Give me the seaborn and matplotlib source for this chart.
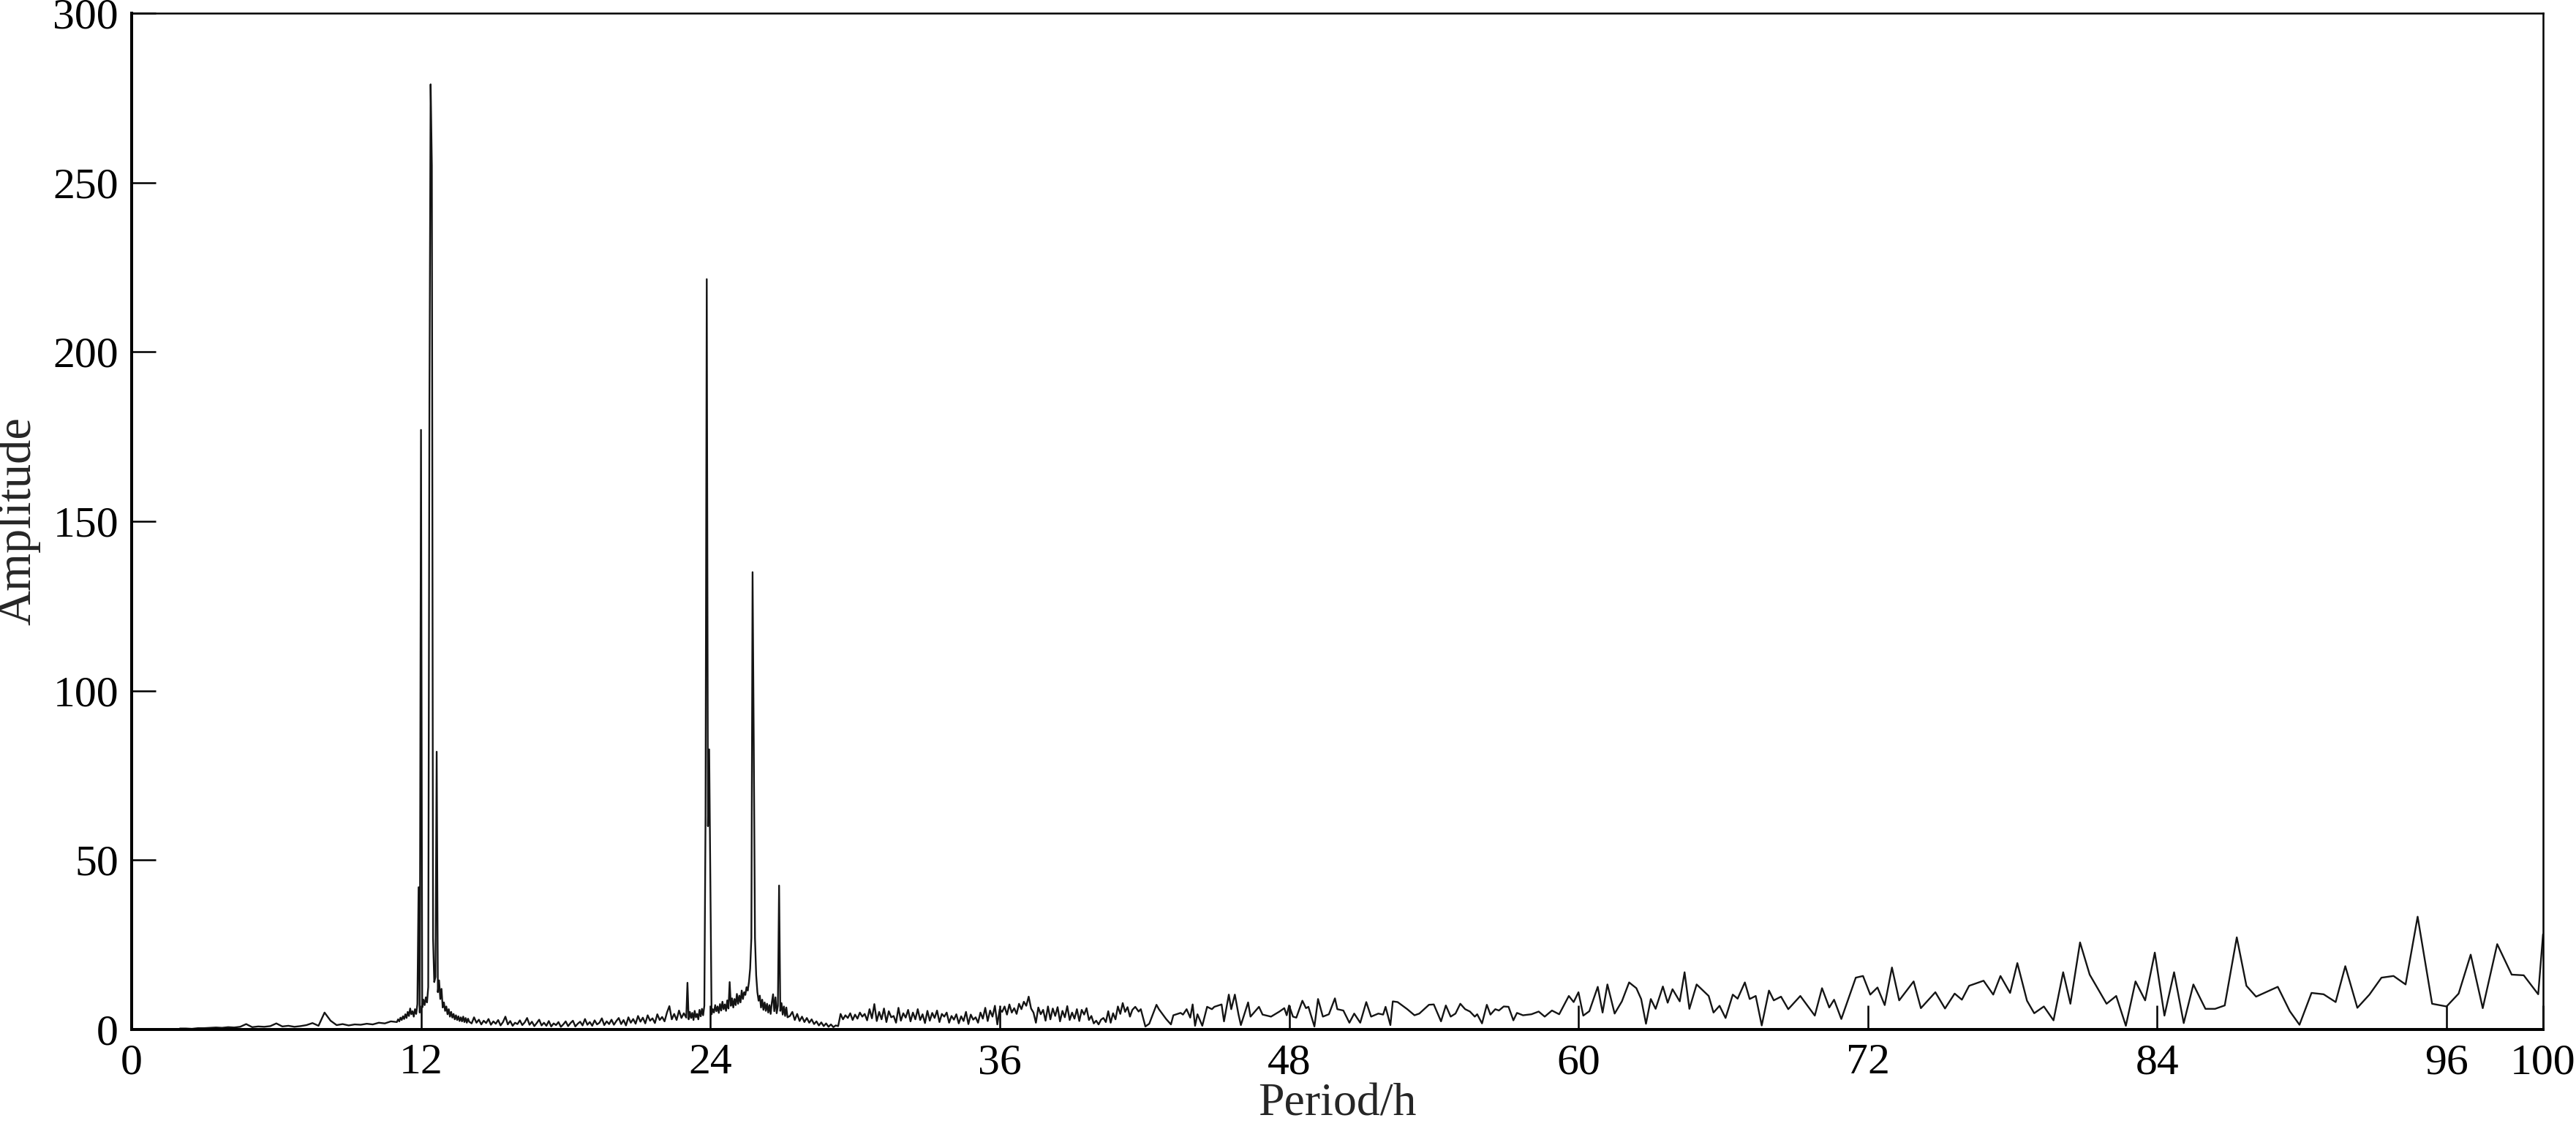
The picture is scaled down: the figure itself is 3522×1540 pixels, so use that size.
import numpy as np
import pandas as pd
import matplotlib.pyplot as plt
import seaborn as sns

# amplitudes at a fixed step, one list per stretch
# 2.00 .. 10.75 h, every 0.25 h
amp_2_11 = [0.3, 0.3, 0.2, 0.4, 0.4, 0.5, 0.6, 0.5, 0.7, 0.6,
            0.8, 1.6, 0.7, 0.9, 0.8, 1.0, 1.8, 0.9, 1.1, 0.8,
            1.0, 1.3, 1.9, 1.1, 5.0, 2.6, 1.3, 1.6, 1.2, 1.5,
            1.4, 1.7, 1.5, 2.0, 1.8, 2.4]
# 11.00 .. 14.00 h, every 0.05 h (S2, M2, N2 lines)
amp_11_14 = [2.2, 3.0, 2.4, 3.5, 2.8, 3.9, 3.1, 4.5, 3.4, 5.2,
             4.0, 6.2, 4.5, 5.4, 3.8, 6.0, 4.6, 7.5, 42.0, 5.0,
             177.0, 6.5, 8.8, 7.2, 9.5, 8.0, 12.5, 186.0, 279.0, 255.0,
             27.0, 14.0, 15.5, 82.0, 11.0, 14.5, 9.0, 12.0, 6.5, 8.0,
             5.5, 6.8, 4.5, 6.0, 3.8, 5.2, 3.5, 4.6, 3.0, 4.2,
             2.8, 3.9, 2.5, 3.6, 2.4, 3.8, 2.2, 3.4, 2.0, 3.2,
             2.3]
# 14.1 .. 22.9 h, every 0.1 h
amp_14_23 = [1.8, 3.6, 2.0, 2.9, 1.5, 2.6, 1.9, 3.1, 1.4, 2.4,
             1.7, 2.8, 1.2, 2.2, 3.8, 1.5, 2.5, 1.1, 2.0, 1.6,
             2.7, 1.3, 2.1, 3.4, 1.4, 2.3, 1.0, 1.9, 2.9, 1.2,
             2.0, 1.1, 2.5, 0.9, 1.8, 1.3, 2.2, 0.8, 1.5, 2.4,
             1.0, 1.9, 2.6, 0.9, 1.7, 2.3, 1.2, 3.1, 1.4, 2.2,
             1.1, 2.7, 1.5, 2.0, 3.3, 1.3, 2.4, 1.6, 2.9, 1.4,
             2.5, 3.4, 1.6, 2.8, 1.2, 3.6, 2.0, 3.1, 1.7, 4.0,
             2.3, 3.5, 1.8, 4.2, 2.6, 3.3, 1.9, 4.5, 2.8, 3.7,
             2.4, 5.0, 6.9, 3.0, 4.6, 2.8, 5.6, 3.4, 4.8]
# 23.00 .. 27.20 h, every 0.05 h (K1, O1, Q1 lines)
amp_23_27 = [3.5, 13.8, 3.0, 5.2, 3.4, 4.9, 2.8, 5.5, 3.6, 4.6,
             3.0, 5.8, 3.9, 6.1, 4.2, 7.0, 63.0, 221.5, 60.0, 82.7,
             44.0, 4.5, 6.0, 5.0, 7.2, 5.4, 6.8, 4.9, 7.5, 5.6,
             8.2, 6.0, 7.4, 5.5, 8.6, 6.2, 14.0, 7.0, 9.2, 6.5,
             9.0, 7.2, 10.5, 7.6, 10.0, 8.0, 11.5, 9.0, 11.0, 10.2,
             12.5, 11.5, 14.0, 18.0, 27.0, 135.0, 84.0, 27.0, 16.0, 11.0,
             8.5, 10.0, 6.5, 8.8, 5.8, 8.0, 5.5, 7.6, 5.0, 7.2,
             4.6, 8.0, 10.4, 5.4, 9.5, 4.8, 7.0, 42.5, 5.5, 7.8,
             4.4, 6.8, 4.0, 6.5, 3.6]
# 27.3 .. 41.5 h, every 0.1 h
amp_27_42 = [4.0, 5.2, 2.8, 4.6, 2.5, 3.8, 2.2, 3.4,
             2.0, 3.0, 1.6, 2.4, 1.2, 2.1, 1.0, 1.8, 0.8, 1.5,
             0.7, 1.2, 1.0, 4.6, 3.0, 4.2, 3.4, 4.8, 2.8, 4.4,
             3.2, 5.0, 3.8, 4.6, 2.7, 6.0, 3.3, 7.5, 2.5, 5.2,
             3.0, 6.2, 2.2, 5.4, 3.6, 4.0, 2.0, 6.4, 2.6, 4.8,
             3.5, 5.8, 2.4, 5.0, 3.0, 6.0, 2.8, 4.5, 1.9, 5.5,
             2.6, 4.9, 3.4, 5.6, 2.2, 4.6, 3.8, 5.0, 2.0, 4.0,
             2.9, 4.5, 1.8, 3.9, 2.5, 5.2, 1.6, 4.4, 2.9, 3.6,
             2.0, 5.0, 3.2, 6.4, 2.5, 5.6, 3.8, 7.0, 1.5, 6.0,
             5.2, 6.8, 4.4, 7.4, 5.0, 6.3, 4.6, 7.6, 6.0, 8.2,
             7.0, 9.7, 6.2, 5.0, 2.0, 6.5, 4.5, 5.8, 2.6, 6.8,
             3.0, 6.2, 4.0, 6.6, 2.4, 5.5, 3.6, 6.9, 2.8, 5.0,
             3.2, 6.0, 2.5, 5.8, 4.4, 6.3, 2.8, 4.0, 1.8, 2.6,
             1.5, 2.9, 3.4, 2.2, 5.4, 2.0, 4.8, 3.0, 6.8, 4.6,
             7.8, 5.2, 6.6, 3.8, 5.8]

# past ~41.6 h the points are sparse enough to read one by one
tail_period = [41.62, 41.76, 41.85, 42.04, 42.2, 42.5, 42.6, 42.9, 43.1, 43.2,
               43.5, 43.6, 43.75, 43.9, 44.0, 44.1, 44.2, 44.4, 44.6, 44.8,
               44.9, 45.2, 45.3, 45.5, 45.6, 45.75, 45.9, 46.0, 46.3, 46.4,
               46.75, 46.9, 47.25, 47.6, 47.8, 47.9, 48.0, 48.16, 48.3, 48.55,
               48.7, 48.8, 49.05, 49.2, 49.4, 49.65, 49.9, 50.0, 50.25, 50.5,
               50.7, 50.95, 51.2, 51.4, 51.7, 51.9, 52.0, 52.2, 52.3, 52.5,
               52.9, 53.2, 53.4, 53.8, 54.0, 54.3, 54.5, 54.7, 54.9, 55.1,
               55.3, 55.5, 55.7, 55.8, 56.0, 56.2, 56.35, 56.55, 56.7, 56.9,
               57.1, 57.3, 57.45, 57.7, 58.05, 58.35, 58.6, 58.9, 59.2, 59.6,
               59.8, 60.0,
               60.2, 60.45, 60.8, 61.0, 61.2, 61.5, 61.8, 62.1, 62.4, 62.6,
               62.8, 63.0, 63.2, 63.5, 63.7, 63.9, 64.2, 64.4, 64.6, 64.9,
               65.4, 65.6, 65.85, 66.1, 66.4, 66.6, 66.9, 67.1, 67.35, 67.6,
               67.9, 68.1, 68.4, 68.7, 69.2, 69.8, 70.1, 70.4, 70.6, 70.9,
               71.5, 71.8, 72.1, 72.4, 72.7, 73.0, 73.3, 73.9, 74.2, 74.8,
               75.2,
               75.6, 75.9, 76.2, 76.8, 77.2, 77.5, 77.9, 78.2, 78.6, 78.9,
               79.3, 79.7, 80.1, 80.4, 80.8, 81.2, 81.9, 82.3, 82.7, 83.1,
               83.5, 83.9, 84.3, 84.7, 85.1, 85.5, 86.0, 86.4, 86.8, 87.3,
               87.7, 88.1, 89.0, 89.5, 89.9, 90.4, 90.9, 91.4, 91.8, 92.3,
               92.8, 93.3, 93.8, 94.3, 94.8, 95.4, 96.0, 96.5, 97.0, 97.5,
               98.1, 98.7, 99.2, 99.8, 100.0]
tail_amp = [6.7, 5.3, 6.0, 0.9, 1.7, 7.3, 6.0, 3.1, 1.5, 4.2,
            4.9, 4.4, 6.0, 3.5, 7.4, 1.1, 4.5, 1.1, 6.7, 6.0,
            6.7, 7.4, 2.4, 10.3, 6.0, 10.3, 4.5, 1.3, 8.0, 3.8,
            6.7, 4.4, 3.8, 5.3, 6.3, 4.2, 7.1, 3.8, 3.5, 8.5,
            6.3, 6.7, 0.9, 9.0, 3.8, 4.5, 9.2, 6.0, 5.6, 2.0,
            4.7, 2.0, 8.1, 3.8, 4.7, 4.4, 6.7, 1.3, 8.3, 8.1,
            6.0, 4.2, 4.7, 7.3, 7.4, 2.4, 7.1, 3.8, 4.7, 7.6,
            6.0, 5.3, 3.8, 4.5, 1.8, 7.3, 4.4, 6.0, 5.6, 6.8,
            6.7, 2.7, 4.9, 4.2, 4.5, 5.3, 3.8, 5.6, 4.5, 9.9,
            8.1, 11.0,
            4.1, 5.4, 12.6, 5.0, 13.3, 4.7, 8.3, 13.9, 12.2, 9.0,
            1.7, 9.0, 6.1, 12.7, 7.9, 11.9, 8.3, 16.9, 6.1, 13.3,
            9.9, 5.0, 7.0, 3.4, 10.3, 9.1, 13.9, 9.0, 9.9, 1.2,
            11.5, 8.6, 9.7, 6.0, 9.9, 4.1, 12.2, 6.5, 8.8, 3.1,
            15.3, 15.8, 10.3, 12.4, 7.2, 18.3, 8.6, 14.2, 6.3, 11.0,
            6.2,
            10.6, 8.8, 12.9, 14.4, 10.3, 15.8, 10.8, 19.6, 8.5, 4.8,
            6.8, 2.7, 16.9, 7.6, 25.7, 16.2, 7.6, 9.9, 1.1, 14.2,
            8.6, 22.7, 4.1, 16.9, 1.9, 13.3, 6.1, 6.1, 7.1, 27.2,
            12.9, 9.7, 12.6, 5.4, 1.4, 10.8, 10.4, 8.1, 18.7, 6.4,
            10.3, 15.3, 15.8, 13.3, 33.3, 7.6, 6.8, 10.6, 22.1, 6.3,
            25.2, 16.2, 16.0, 10.4, 28.1]

xticks = [0, 12, 24, 36, 48, 60, 72, 84, 96, 100]
yticks = [0, 50, 100, 150, 200, 250, 300]


def grid(start, step, vals):
    # periods of the regularly read samples
    return list(np.round(start + step * np.arange(len(vals)), 2))


period = (grid(2.0, 0.25, amp_2_11) + grid(11.0, 0.05, amp_11_14)
          + grid(14.1, 0.1, amp_14_23) + grid(23.0, 0.05, amp_23_27)
          + grid(27.3, 0.1, amp_27_42) + tail_period)
amplitude = amp_2_11 + amp_11_14 + amp_14_23 + amp_23_27 + amp_27_42 + tail_amp
df = pd.DataFrame({'Period': period, 'Amplitude': amplitude})

sns.set_theme(style='ticks')
plt.rcParams['font.family'] = ['Liberation Serif', 'DejaVu Serif']

fig = plt.figure(figsize=(35.22, 15.4), dpi=100)
ax = fig.add_axes([0.0511, 0.0857, 0.9361, 0.9026])
sns.lineplot(data=df, x='Period', y='Amplitude', ax=ax, color='#141414',
             linewidth=1.7, estimator=None, sort=False)

ax.set_xlim(0, 100)
ax.set_ylim(0, 300)
ax.set_xticks(xticks)
ax.set_yticks(yticks)
ax.tick_params(direction='in', length=24, width=1.8, labelsize=43, colors='black')
ax.tick_params(axis='x', pad=14)
ax.tick_params(axis='y', pad=13)
ax.set_xlabel('Period/h', fontsize=46, labelpad=0)
ax.set_ylabel('Amplitude', fontsize=48, labelpad=12)

for side in ['left', 'bottom']:
    ax.spines[side].set_linewidth(2.9)
for side in ['top', 'right']:
    ax.spines[side].set_linewidth(1.8)
for sp in ax.spines.values():
    sp.set_color('black')

fig.savefig('out.png', dpi=100)
